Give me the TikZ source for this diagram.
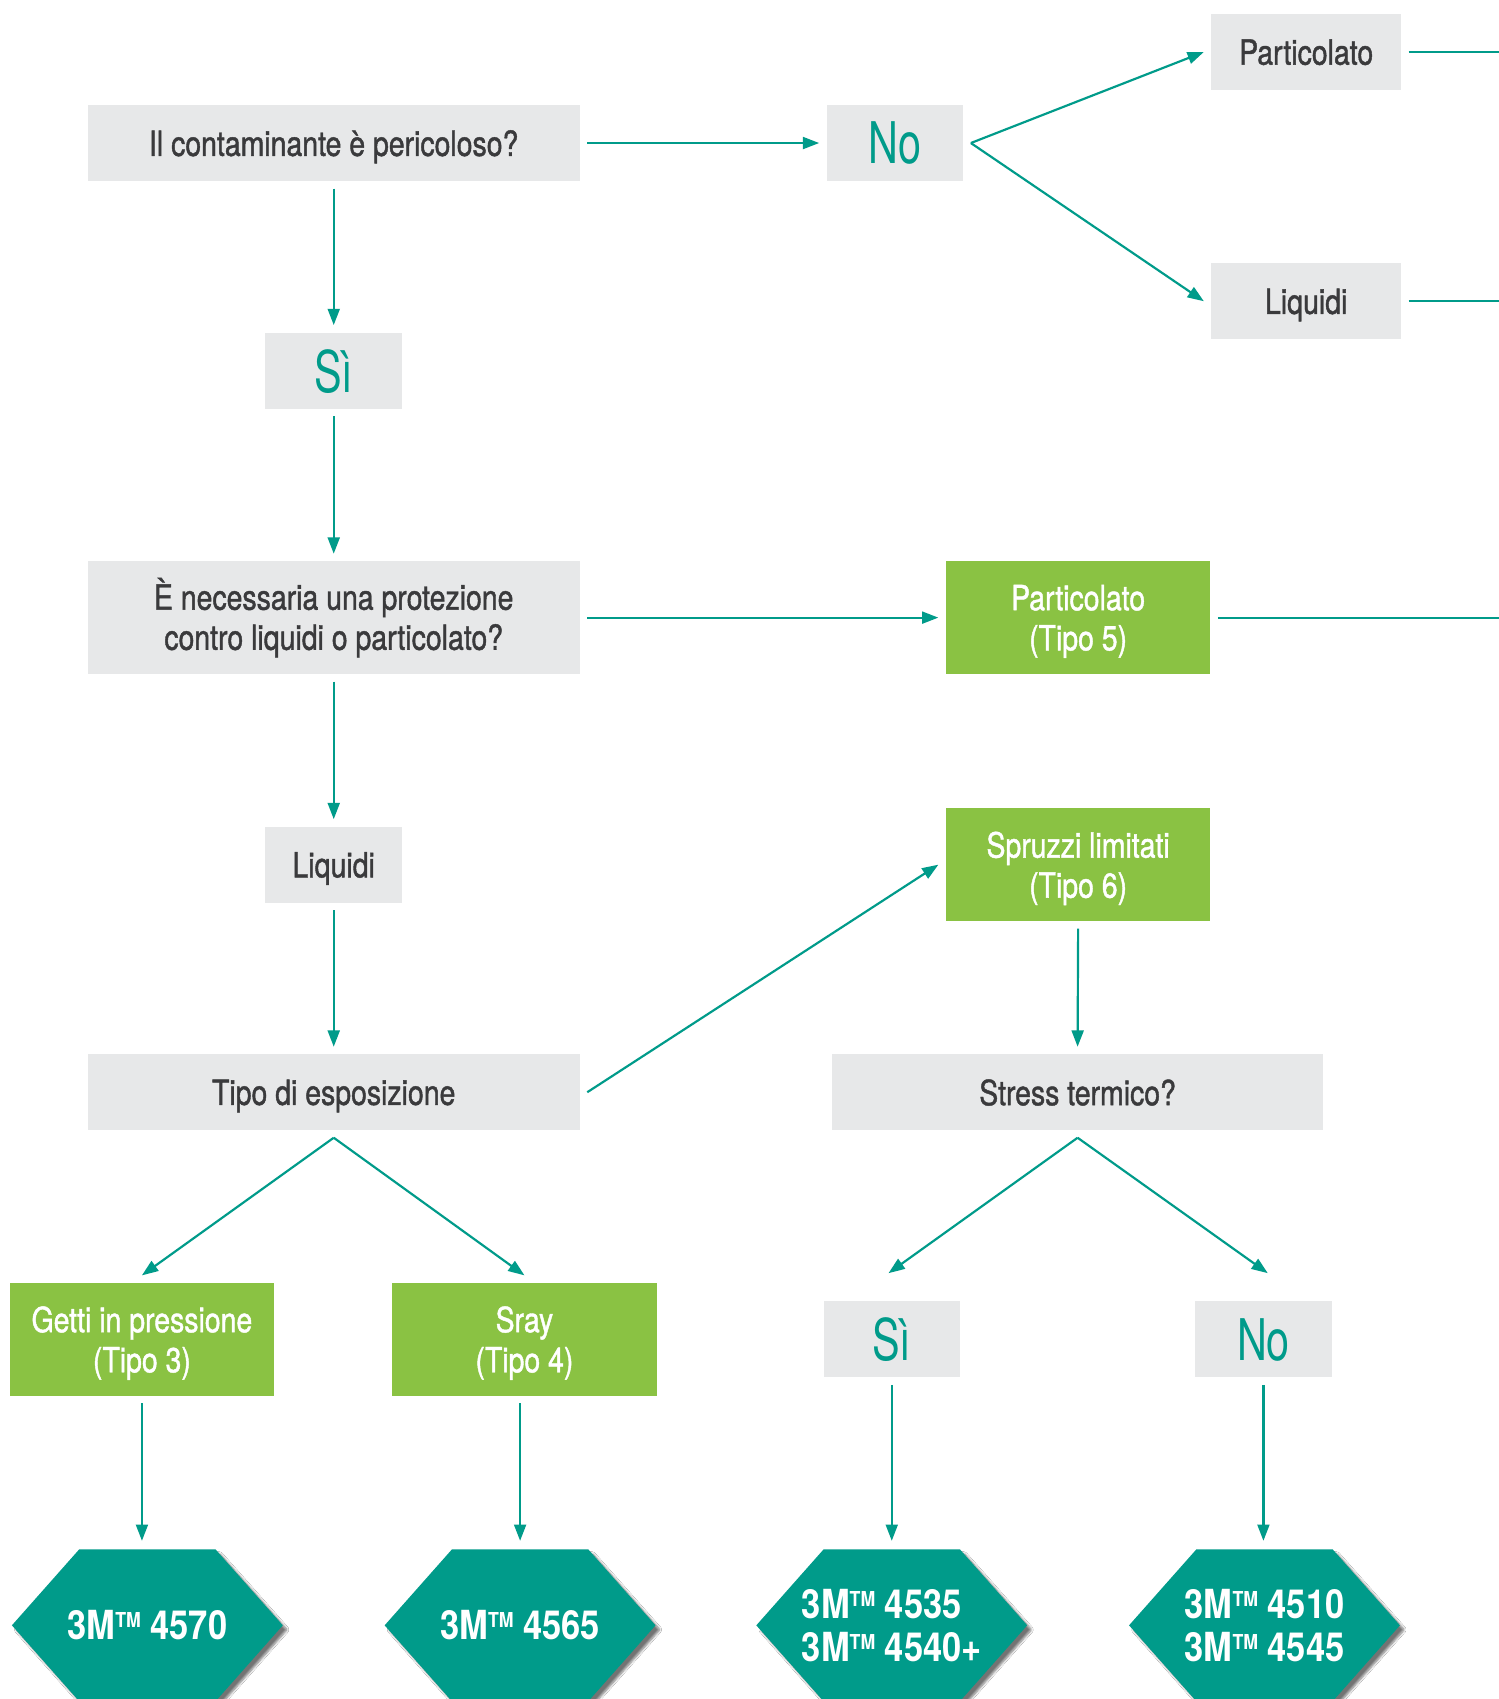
\documentclass[tikz,border=0pt]{standalone}
\usepackage{fontspec}
\setmainfont{TeX Gyre Heros}[FakeStretch=0.82, FakeBold=1.2]
\newfontfamily\bigfont{TeX Gyre Heros}[FakeStretch=0.72]
\newfontfamily\hexfont{TeX Gyre Heros Bold}[FakeStretch=0.86]
\usetikzlibrary{arrows.meta,shadows.blur}
\definecolor{boxgray}{HTML}{E7E8E9}
\definecolor{tealM}{HTML}{009B8A}
\definecolor{greenM}{HTML}{8AC243}
\definecolor{darktext}{HTML}{3A3A3C}
\newcommand\tmark{\raisebox{11pt}{\fontsize{19}{19}\selectfont TM}}
\tikzset{
  base/.style={rectangle, inner sep=0pt, outer sep=7pt, align=center, text depth=0pt, font=\fontsize{32}{37}\selectfont},
  graybox/.style={base, fill=boxgray, text=darktext},
  greenbox/.style={base, fill=greenM, text=white, minimum width=244pt, minimum height=104pt},
  yesno/.style={base, fill=boxgray, text=tealM, minimum width=126pt, minimum height=70pt, font=\bigfont\fontsize{53}{58}\selectfont},
  arr/.style={draw=tealM, line width=2pt, -{Triangle[length=15pt,width=11pt]}},
  plainline/.style={draw=tealM, line width=2pt},
  hexfill/.style={fill=tealM, blur shadow={shadow xshift=4pt, shadow yshift=-4pt, shadow blur steps=6, shadow opacity=55, shadow blur extra rounding=1pt}},
  hexlabel/.style={rectangle, inner sep=0pt, outer sep=8pt, minimum width=200pt, minimum height=140pt, text=white, align=left, font=\hexfont\fontsize{37}{40}\selectfont}
}
\newcommand\hexpath[2]{%
  \path[hexfill] (#1-125,#2) -- (#1-63,#2-70) -- (#1+63,#2-70) -- (#1+125,#2) -- (#1+63,#2+70) -- (#1-63,#2+70) -- cycle;}
\begin{document}
\begin{tikzpicture}[x=1pt,y=-1pt]
\useasboundingbox (0,0) rectangle (1383,1568);
\fill[white] (0,0) rectangle (1383,1568);

% top row
\node[graybox, minimum width=454pt, minimum height=70pt] (q1) at (308,132) {Il contaminante è pericoloso?};
\node[yesno] (no1) at (826,132) {No};
\node[graybox, minimum width=175pt, minimum height=70pt] (p1) at (1205.5,48) {Particolato};
\node[graybox, minimum width=175pt, minimum height=70pt] (l1) at (1205.5,278) {Liquidi};
\coordinate (r1) at (1390,48);
\coordinate (r2) at (1390,278);

\node[yesno] (si1) at (308,342) {Sì};
\node[graybox, text depth={}, minimum width=454pt, minimum height=104pt] (q2) at (308,570) {È necessaria una protezione\\contro liquidi o particolato?};
\node[greenbox] (t5) at (995,570) {Particolato\\(Tipo 5)};
\coordinate (r3) at (1390,570);

\node[graybox, minimum width=126pt, minimum height=70pt] (liq) at (308,798) {Liquidi};
\node[greenbox] (t6) at (995,798) {Spruzzi limitati\\(Tipo 6)};

\node[graybox, minimum width=454pt, minimum height=70pt] (esp) at (308,1008) {Tipo di esposizione};
\node[graybox, minimum width=453pt, minimum height=70pt] (st) at (994.5,1008) {Stress termico?};

\node[greenbox] (t3) at (131,1236) {Getti in pressione\\(Tipo 3)};
\node[greenbox] (t4) at (484,1236) {Sray\\(Tipo 4)};
\node[yesno] (si2) at (823,1236) {Sì};
\node[yesno] (no2) at (1166,1236) {No};
\coordinate (e1) at (820,1175);
\coordinate (e2) at (1170,1175);

% hexagons
\hexpath{136}{1500}
\hexpath{480}{1500}
\hexpath{823}{1500}
\hexpath{1167}{1500}
\node[hexlabel, align=center] (h1) at (136,1500) {3M\tmark\ 4570};
\node[hexlabel, align=center] (h2) at (480,1500) {3M\tmark\ 4565};
\node[hexlabel] (h3) at (823,1500) {3M\tmark\ 4535\\3M\tmark\ 4540+};
\node[hexlabel] (h4) at (1167,1500) {3M\tmark\ 4510\\3M\tmark\ 4545};

% connectors
\draw[arr] (q1.east) -- (no1.west);
\draw[arr] (no1.east) -- (p1.west);
\draw[arr] (no1.east) -- (l1.west);
\draw[plainline] (p1.east) -- (r1);
\draw[plainline] (l1.east) -- (r2);
\draw[arr] (q1.south) -- (si1.north);
\draw[arr] (si1.south) -- (q2.north);
\draw[arr] (q2.east) -- (t5.west);
\draw[plainline] (t5.east) -- (r3);
\draw[arr] (q2.south) -- (liq.north);
\draw[arr] (liq.south) -- (esp.north);
\draw[arr] (esp.east) -- (t6.west);
\draw[arr] (t6.south) -- (st.north);
\draw[arr] (esp.south) -- (t3.north);
\draw[arr] (esp.south) -- (t4.north);
\draw[arr] (st.south) -- (e1);
\draw[arr] (st.south) -- (e2);
\draw[arr] (t3.south) -- (t3.south |- h1.north);
\draw[arr] (h2.north |- t4.south) -- (h2.north);
\draw[arr] (si2.south) -- (si2.south |- h3.north);
\draw[arr] (no2.south) -- (no2.south |- h4.north);
\end{tikzpicture}
\end{document}
